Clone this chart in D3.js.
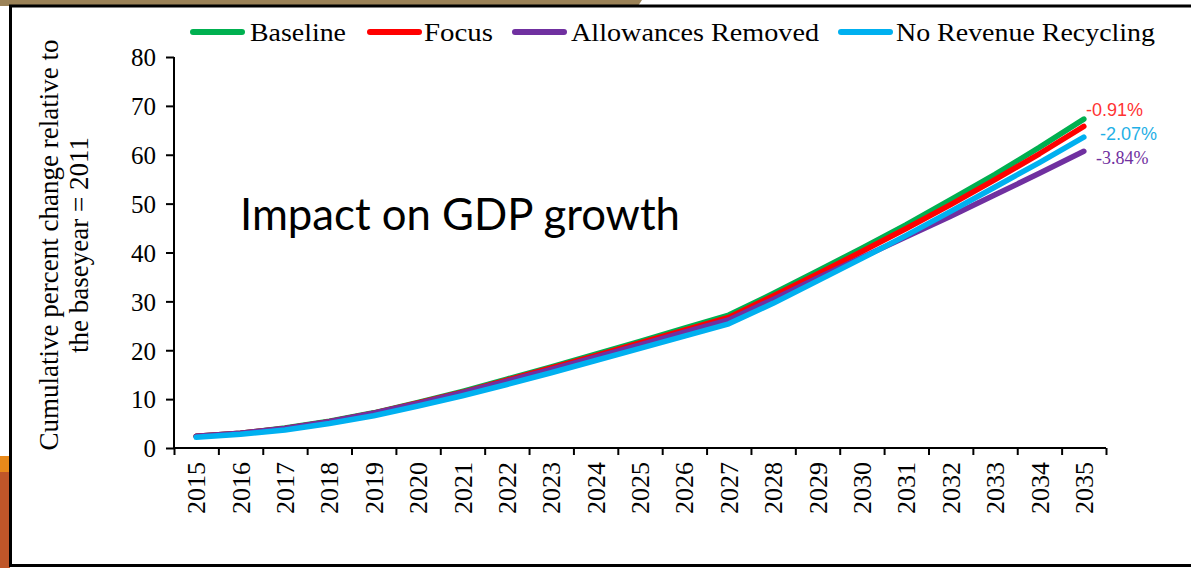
<!DOCTYPE html>
<html>
<head>
<meta charset="utf-8">
<script src="https://cdn.jsdelivr.net/npm/d3@7"></script>
<style>
  body { margin: 0; background: #fff; }
  svg { display: block; }
  text { font-family: "Liberation Serif", "Times New Roman", serif; fill: #000; }
</style>
</head>
<body>
<div id="chart"></div>
<script>
// data
var years = d3.range(2015, 2036);
var seriesNames = ["Baseline", "Focus", "Allowances Removed", "No Revenue Recycling"];
var seriesColors = ["#00b050", "#ff0000", "#7030a0", "#00b0f0"];
var baseline = [2.4, 3.0, 4.1, 5.5, 7.2, 9.3, 11.6, 14.1, 16.6, 19.2, 21.8, 24.5, 27.2, 31.6, 36.2, 40.9, 45.7, 50.8, 56.0, 61.5, 67.3];
var focus = [2.4, 3.0, 4.0, 5.4, 7.1, 9.2, 11.4, 13.9, 16.4, 18.9, 21.5, 24.1, 26.7, 31.1, 35.6, 40.2, 44.9, 49.8, 54.9, 60.2, 65.8];
var allowances = [2.4, 3.0, 4.0, 5.4, 7.1, 9.1, 11.3, 13.7, 16.1, 18.6, 21.1, 23.7, 26.2, 30.4, 34.8, 39.0, 43.2, 47.4, 51.8, 56.2, 60.7];
var noRevenue = [2.2, 2.8, 3.7, 5.0, 6.6, 8.6, 10.7, 13.0, 15.4, 17.9, 20.4, 22.9, 25.4, 29.6, 34.2, 38.8, 43.5, 48.4, 53.4, 58.4, 63.6];
var yTicks = [0, 10, 20, 30, 40, 50, 60, 70, 80];
var endLabels = ["-0.91%", "-2.07%", "-3.84%"];

!(function () {
  var W = 1191, H = 568;
  var svg = d3.select("#chart").append("svg").attr("width", W).attr("height", H);

  // slide decoration
  svg.append("path").attr("d", "M0,0 L642,0 L638,6 L0,6 Z").attr("fill", "#9b8257");
  svg.append("rect").attr("x", 0).attr("y", 456).attr("width", 10).attr("height", 16).attr("fill", "#e8891a");
  svg.append("rect").attr("x", 0).attr("y", 472).attr("width", 10).attr("height", 96).attr("fill", "#bf5629");
  svg.append("rect").attr("x", 10.5).attr("y", 6).attr("width", W + 10).attr("height", 559.5)
    .attr("fill", "#fff").attr("stroke", "#000").attr("stroke-width", 3);

  var mLeft = 174, mRight = 1106, mTop = 57, mBottom = 448;
  var x = d3.scaleBand().domain(years).range([mLeft, mRight]).padding(0);
  var xEdge = d3.scaleLinear().domain([0, years.length]).range([mLeft, mRight]);
  var y = d3.scaleLinear().domain([0, 80]).range([mBottom, mTop]);

  // y axis
  var yAxis = svg.append("g").attr("transform", "translate(" + mLeft + ",0)")
    .call(d3.axisLeft(y).tickValues(yTicks).tickSize(8).tickPadding(10));
  yAxis.selectAll("text").style("font-size", "25px").attr("dy", "0.35em");
  yAxis.selectAll("path, line").attr("stroke", "#000").attr("stroke-width", 2);
  yAxis.select(".domain").attr("d", "M0," + y(80) + "V" + y(0));

  // x axis: ticks between categories, labels at centers
  var xTickAxis = svg.append("g").attr("transform", "translate(0," + mBottom + ")")
    .call(d3.axisBottom(xEdge).tickValues(d3.range(0, years.length + 1)).tickSize(7).tickFormat(""));
  xTickAxis.selectAll("path, line").attr("stroke", "#000").attr("stroke-width", 2);
  xTickAxis.select(".domain").attr("d", "M" + mLeft + ",0H" + mRight);

  var xLabelAxis = svg.append("g").attr("transform", "translate(0," + mBottom + ")")
    .call(d3.axisBottom(x).tickSize(0).tickPadding(0));
  xLabelAxis.select(".domain").remove();
  xLabelAxis.selectAll("text")
    .style("font-size", "26px")
    .attr("text-anchor", "end")
    .attr("transform", "translate(0,14) rotate(-90)")
    .attr("x", 0).attr("y", 0).attr("dy", "0.35em");

  // y title
  var yTitle = svg.append("text").attr("transform", "translate(50,245) rotate(-90)")
    .attr("text-anchor", "middle").style("font-size", "27px");
  yTitle.append("tspan").attr("x", 0).attr("dy", "0.3em").text("Cumulative percent change relative to");
  yTitle.append("tspan").attr("x", 0).attr("dy", "1.1em").text("the baseyear = 2011");

  // lines
  var allSeries = [baseline, focus, allowances, noRevenue];
  var line = d3.line()
    .x(function (d, i) { return x(years[i]) + x.bandwidth() / 2; })
    .y(function (d) { return y(d); });

  svg.append("g").selectAll("path").data(allSeries).enter().append("path")
    .attr("d", line)
    .attr("fill", "none")
    .attr("stroke", function (d, i) { return seriesColors[i]; })
    .attr("stroke-width", 5.5)
    .attr("stroke-linecap", "round")
    .attr("stroke-linejoin", "round");

  // end labels
  var endCfg = [
    { x: 1086, v: 68.0, color: "#ff3333", font: "'Liberation Sans', Arial, sans-serif" },
    { x: 1100, v: 63.1, color: "#1fb0e6", font: "'Liberation Sans', Arial, sans-serif" },
    { x: 1096, v: 58.2, color: "#7030a0", font: "'Liberation Serif', serif" }
  ];
  svg.append("g").selectAll("text").data(endLabels).enter().append("text")
    .attr("x", function (d, i) { return endCfg[i].x; })
    .attr("y", function (d, i) { return y(endCfg[i].v); })
    .style("font-family", function (d, i) { return endCfg[i].font; })
    .style("font-size", "18px")
    .style("fill", function (d, i) { return endCfg[i].color; })
    .text(function (d) { return d; });

  // annotation
  var note = svg.append("text").attr("x", 240).attr("y", 230)
    .style("font-family", "Lato, 'Open Sans', sans-serif")
    .style("font-size", "36px")
    .text("Impact on GDP growth");
  var nw = note.node().getComputedTextLength();
  note.style("font-size", (36 * 440 / nw) + "px");

  // legend
  var legendLayout = [
    { sx: 190, tx: 250, tw: 96 },
    { sx: 367, tx: 424, tw: 69 },
    { sx: 512, tx: 571, tw: 248 },
    { sx: 838, tx: 896, tw: 259 }
  ];
  var legend = svg.append("g").selectAll("g").data(seriesNames).enter().append("g");
  legend.append("line")
    .attr("x1", function (d, i) { return legendLayout[i].sx + 3; })
    .attr("x2", function (d, i) { return legendLayout[i].sx + 52; })
    .attr("y1", 32).attr("y2", 32)
    .attr("stroke", function (d, i) { return seriesColors[i]; })
    .attr("stroke-width", 6)
    .attr("stroke-linecap", "round");
  legend.append("text")
    .attr("x", function (d, i) { return legendLayout[i].tx; })
    .attr("y", 41)
    .style("font-size", "26px")
    .attr("textLength", function (d, i) { return legendLayout[i].tw; })
    .attr("lengthAdjust", "spacingAndGlyphs")
    .text(function (d) { return d; });
})();
</script>
</body>
</html>
